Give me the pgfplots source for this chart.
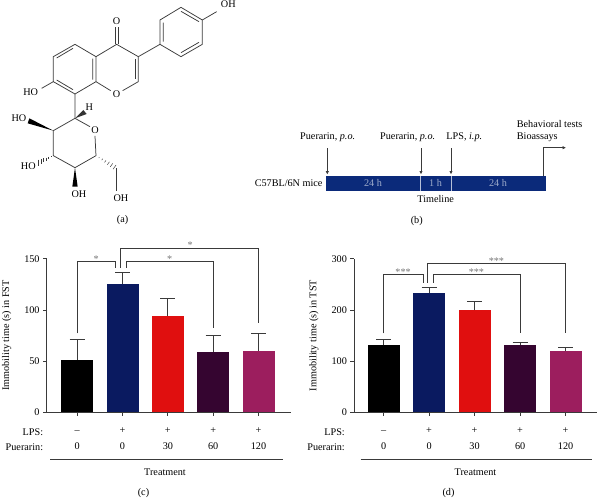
\documentclass[border=0pt]{standalone}
\usepackage{pgfplots}
\pgfplotsset{compat=1.18}
\usetikzlibrary{calc,arrows.meta}
\usepackage{fontspec}
\setmainfont{Liberation Serif}
\newcommand{\fs}{\fontsize{10.2}{12}\selectfont}
\definecolor{cnavy}{HTML}{0A1A60}
\definecolor{cred}{HTML}{E00F0F}
\definecolor{cplum}{HTML}{350530}
\definecolor{cmag}{HTML}{9C1E5E}
\definecolor{cbar}{HTML}{0B2A7A}
\definecolor{cline}{HTML}{3A3A3A}
\tikzset{
  bracket/.style={draw=cline,line width=.75pt},
  star/.style={font=\fs,text=cline!70},
}
\pgfplotsset{
  chart/.style={
    scale only axis, height=153.6pt,
    axis x line*=bottom, axis y line*=left,
    axis line style={-,line width=.8pt,color=cline},
    tick style={line width=.8pt,color=cline},
    tick align=outside, major tick length=3.6pt,
    ymin=0, clip=false, ybar, bar width=32pt, bar shift=0pt,
    xtick={0,1,2,3,4},
    xticklabels={{\rule{0pt}{7pt}--\\[3.7pt]0},{\rule{0pt}{7pt}+\\[3.7pt]0},{\rule{0pt}{7pt}+\\[3.7pt]30},{\rule{0pt}{7pt}+\\[3.7pt]60},{\rule{0pt}{7pt}+\\[3.7pt]120}},
    xticklabel style={align=center,font=\fs,yshift=-7pt},
    yticklabel style={font=\fs},
    ylabel style={font=\fs},
    /pgf/number format/assume math mode=true,
  },
  barb/.style={fill=#1,draw=none,
    error bars/.cd, y dir=plus, y explicit,
    error bar style={line width=.85pt,color=cline},
    error mark options={rotate=90,mark size=7.5pt,line width=.85pt,color=cline}},
}
\begin{document}
\begin{tikzpicture}
\path[use as bounding box] (0,0) rectangle (598pt,-498pt);
% ---- (a) structure
\begin{scope}[x=.3333pt,y=-.3333pt,line width=.75pt,draw=cline,font=\fs]
\draw (288,170)--(225,133)--(160,170)--(160,245)--(225,282)--(288,245)--cycle;
\draw (219,145)--(170,174) (170,240)--(219,269) (278,176)--(278,239);
\draw (288,170)--(350,133)--(415,170)--(415,245)--(368,272) (332,272)--(288,245);
\draw (407,178)--(407,238);
\draw (345,133)--(345,82) (355,133)--(355,82);
\draw (415,170)--(480,133);
\draw (480,133)--(480,60)--(543,22)--(607,60)--(607,133)--(543,170)--cycle;
\draw (490,125)--(490,68) (543,34)--(597,65) (597,127)--(543,158);
\draw (607,60)--(650,35);
\draw (160,245)--(125,265);
\draw (225,282)--(225,355)--(270,380) (285,408)--(288,467)--(225,503)--(160,467)--(160,392)--(225,355);
\fill[cline!90!black] (225,355)--(250,330)--(260,342)--cycle;
\fill[black] (160,392)--(88,355)--(83,370)--cycle;
\fill[black] (225,503)--(217,560)--(233,560)--cycle;
\foreach \t in {.15,.3,.45,.6,.75,.9}{
  \draw[line width=.45pt] ($(160,467)!\t!(110,490)+(0,{-10*\t})$)--($(160,467)!\t!(110,490)+(0,{10*\t})$);
  \draw[line width=.45pt] ($(288,467)!\t!(350,505)+({-5*\t},{7*\t})$)--($(288,467)!\t!(350,505)+({5*\t},{-7*\t})$);
}
\draw (350,505)--(350,572);
\node at (350,63) {O};
\node at (350,282) {O};
\node at (685,14) {OH};
\node at (92,277) {HO};
\node at (268,322) {H};
\node at (285,390) {O};
\node at (57,355) {HO};
\node at (85,498) {HO};
\node at (237,582) {OH};
\node at (363,596) {OH};
\node at (368,660) {(a)};
\end{scope}
% ---- (b) timeline
\begin{scope}[x=1pt,y=-1pt,font=\fs]
\fill[cbar] (325.7,176) rectangle (545.7,190.7);
\draw[white!70!cbar,line width=.6pt] (420.7,176)--(420.7,190.7) (451.3,176)--(451.3,190.7);
\node[text=white!60!cbar] at (373,183.3) {24 h};
\node[text=white!60!cbar] at (435.5,183.3) {1 h};
\node[text=white!60!cbar] at (498,183.3) {24 h};
\node[anchor=east] at (326,183.3) {C57BL/6N mice};
\foreach \xx in {327.3,421,451}
  \draw[-{Latex[length=3.4pt,width=3.4pt]},line width=.75pt,draw=cline] (\xx,148.3)--(\xx,174.5);
\node at (327.7,137.7) {Puerarin, \textit{p.o.}};
\node at (407.7,137.7) {Puerarin, \textit{p.o.}};
\node at (464.3,137.7) {LPS, \textit{i.p.}};
\node[anchor=west,inner sep=0pt] at (516.7,124.3) {Behavioral tests};
\node[anchor=west,inner sep=0pt] at (516.7,137.7) {Bioassays};
\draw[-{Latex[length=3.4pt,width=3.4pt]},line width=.75pt,draw=cline] (543,176)--(543,147.7)--(566,147.7);
\node at (435.7,199.3) {Timeline};
\node at (416.7,220.7) {(b)};
% under-axis text, (c)
\node[anchor=east,inner sep=0pt] at (43.3,431.8) {LPS:};
\node[anchor=east,inner sep=0pt] at (43.3,447.3) {Puerarin:};
\draw[cline,line width=.75pt] (50,459)--(282.5,459);
\node at (165,472) {Treatment};
\node at (143.5,493) {(c)};
% under-axis text, (d)
\node[anchor=east,inner sep=0pt] at (345,431.8) {LPS:};
\node[anchor=east,inner sep=0pt] at (345,447.3) {Puerarin:};
\draw[cline,line width=.75pt] (360.5,459)--(592,459);
\node at (475.5,472) {Treatment};
\node at (448.5,493) {(d)};
\end{scope}
% ---- (c)
\begin{axis}[chart, at={(46.7pt,-412.3pt)}, anchor=south west, width=244.5pt,
  xmin=-0.672, xmax=4.72, ymax=150, ytick={0,50,100,150},
  ylabel={Immobility time (s) in FST},
  ylabel style={at={(axis description cs:-0.1636,0.5)},anchor=center}]
\addplot[barb=black] coordinates {(0,51) +- (0,20.3)};
\addplot[barb=cnavy] coordinates {(1,125.3) +- (0,11)};
\addplot[barb=cred] coordinates {(2,94.4) +- (0,16.6)};
\addplot[barb=cplum] coordinates {(3,59.2) +- (0,16)};
\addplot[barb=cmag] coordinates {(4,59.9) +- (0,17.2)};
\draw[bracket] (axis cs:0,77.1)--(axis cs:0,147.4)--(axis cs:.853,147.4)--(axis cs:.853,141.2);
\draw[bracket] (axis cs:1.096,141.2)--(axis cs:1.096,147.4)--(axis cs:3,147.4)--(axis cs:3,82);
\draw[bracket] (axis cs:.956,141.2)--(axis cs:.956,160)--(axis cs:4,160)--(axis cs:4,87.5);
\node[star] at (axis cs:.42,150) {*};
\node[star] at (axis cs:2.04,150) {*};
\node[star] at (axis cs:2.49,163) {*};
\end{axis}
% ---- (d)
\begin{axis}[chart, at={(354pt,-412.3pt)}, anchor=south west, width=243pt,
  xmin=-0.65, xmax=4.69, ymax=300, ytick={0,100,200,300},
  ylabel={Immobility time (s) in TST},
  ylabel style={at={(axis description cs:-0.1646,0.5)},anchor=center}]
\addplot[barb=black] coordinates {(0,130.8) +- (0,11.7)};
\addplot[barb=cnavy] coordinates {(1,232.3) +- (0,11.7)};
\addplot[barb=cred] coordinates {(2,199.8) +- (0,16.2)};
\addplot[barb=cplum] coordinates {(3,131.5) +- (0,5.2)};
\addplot[barb=cmag] coordinates {(4,119.7) +- (0,7.8)};
\draw[bracket] (axis cs:0,154)--(axis cs:0,268.8)--(axis cs:.875,268.8)--(axis cs:.875,253.2);
\draw[bracket] (axis cs:1.096,253.2)--(axis cs:1.096,268.8)--(axis cs:3,268.8)--(axis cs:3,154);
\draw[bracket] (axis cs:.97,253.2)--(axis cs:.97,291)--(axis cs:4,291)--(axis cs:4,154);
\node[star] at (axis cs:.43,274) {***};
\node[star] at (axis cs:2.04,274) {***};
\node[star] at (axis cs:2.48,296) {***};
\end{axis}
\end{tikzpicture}
\end{document}
